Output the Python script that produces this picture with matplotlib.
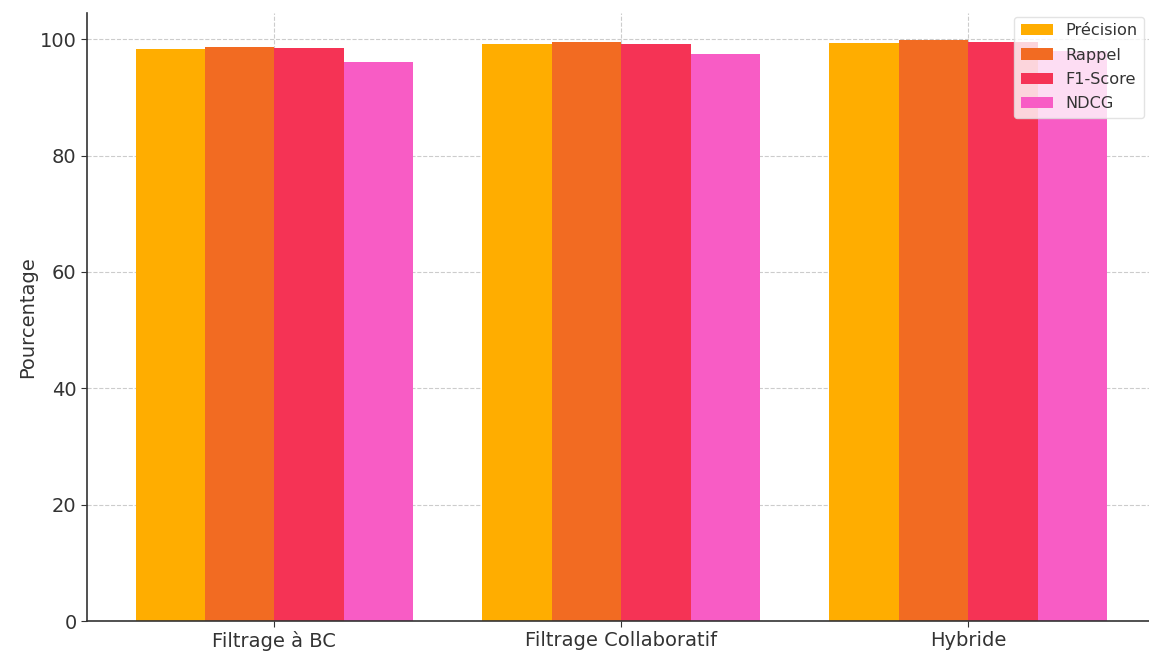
import numpy as np
import matplotlib
matplotlib.use("Agg")
import matplotlib.pyplot as plt

categories = ["Filtrage à BC", "Filtrage Collaboratif", "Hybride"]
series_names = ["Précision", "Rappel", "F1-Score", "NDCG"]
precision = [98.3, 99.1, 99.4]
rappel = [98.7, 99.6, 99.8]
f1_score = [98.5, 99.2, 99.55]
ndcg = [96.1, 97.4, 97.9]
colors = ["#FFAD00", "#F26B22", "#F53355", "#F85CC5"]

series = [precision, rappel, f1_score, ndcg]

text_color = "#333333"
plt.rcParams["font.family"] = ["DejaVu Sans"]

fig = plt.figure(figsize=(11.49, 6.53), dpi=100)
ax = fig.add_axes([0.0757, 0.049, 0.930, 0.931])

x = np.arange(len(categories))
width = 0.2
for i, (name, vals, c) in enumerate(zip(series_names, series, colors)):
    ax.bar(x + (i - 1.5) * width, vals, width, label=name, color=c, zorder=2)

ax.set_xticks(x)
ax.set_xticklabels(categories)
ax.set_ylabel("Pourcentage", fontsize=14, color=text_color, labelpad=2)
ax.tick_params(axis="both", labelsize=14, colors=text_color, length=4)
ax.set_xlim(-0.54, 2.54)
ax.set_ylim(0, 104.5)
ax.set_yticks([0, 20, 40, 60, 80, 100])

ax.grid(True, linestyle="--", color="#cccccc", linewidth=0.8, zorder=0)
ax.set_axisbelow(True)
for s in ["top", "right"]:
    ax.spines[s].set_visible(False)
for s in ["left", "bottom"]:
    ax.spines[s].set_color(text_color)
    ax.spines[s].set_linewidth(1.2)

leg = ax.legend(loc="upper right", bbox_to_anchor=(0.997, 1.007), fontsize=11.6,
                labelspacing=0.58, framealpha=0.8, edgecolor="#dddddd",
                labelcolor=text_color)

fig.savefig("out.png", dpi=100)
